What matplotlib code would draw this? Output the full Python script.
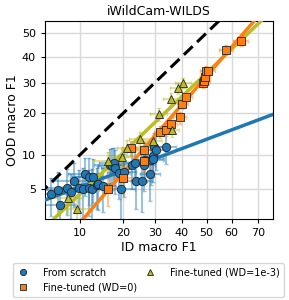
import math
import numpy as np
import matplotlib
matplotlib.use("Agg")
import matplotlib.pyplot as plt
from matplotlib.ticker import FixedLocator, FixedFormatter, NullLocator

# From scratch (blue circles): ID / OOD macro F1 with error bars
scratch_id = [5.8, 6.6, 6.95, 7.9, 8.5, 9.0, 9.8, 10.5, 10.9, 11.6, 11.6, 12.5, 12.2,
              13.3, 13.6, 14.8, 16.4, 16.9, 17.5, 17.8, 18.8, 19.4, 20.1, 22.4, 23.3,
              23.8, 25.6, 26.2, 26.7, 28.5, 28.7, 29.3, 29.5, 29.7, 30.6, 34.2]
scratch_ood = [4.5, 4.95, 3.5, 5.2, 4.7, 5.95, 5.2, 5.0, 6.9, 6.5, 5.1, 6.5, 5.0,
               5.5, 5.6, 5.4, 8.2, 8.1, 8.5, 7.7, 7.0, 5.0, 7.2, 8.2, 8.5,
               6.0, 6.0, 8.2, 9.1, 6.9, 9.0, 9.7, 9.3, 11.6, 11.0, 11.6]
scratch_xerr = [2.0, 2.4, 2.2, 2.6, 2.4, 3.0, 2.6, 3.2, 2.8, 3.0, 2.7, 3.4, 2.9,
                3.0, 3.5, 3.2, 3.6, 3.4, 3.8, 3.5, 3.2, 4.0, 3.6, 3.5, 4.0,
                3.6, 3.4, 4.0, 3.8, 3.5, 4.2, 3.8, 4.0, 3.6, 4.0, 3.5]
scratch_yerr = [1.8, 2.2, 1.6, 2.4, 2.2, 2.6, 2.2, 2.8, 2.6, 3.0, 2.4, 2.8, 2.6,
                2.3, 2.5, 2.4, 3.0, 3.2, 2.8, 3.2, 3.0, 2.6, 3.0, 3.2, 3.0,
                2.8, 3.0, 3.4, 3.2, 3.0, 3.5, 3.2, 3.4, 3.0, 3.6, 3.2]

# Fine-tuned, WD=0 (orange squares)
ft0_id = [15.9, 19.9, 22.1, 26.2, 26.2, 31.9, 33.9, 35.9, 39.3, 40.3, 41.9,
          48.7, 49.0, 49.4, 49.7, 50.7, 57.8, 63.5]
ft0_ood = [5.0, 6.3, 11.3, 10.9, 8.9, 14.9, 15.3, 17.0, 18.7, 22.8, 25.0,
           30.0, 30.7, 32.3, 34.5, 34.4, 43.0, 46.5]
ft0_xerr = [2.5, 2.8, 2.5, 2.6, 2.4, 2.2, 2.5, 2.4, 2.6, 2.2, 2.4,
            2.4, 2.6, 2.2, 2.4, 2.6, 2.8, 2.8]
ft0_yerr = [1.6, 1.8, 1.5, 1.6, 1.8, 1.5, 1.4, 1.6, 1.7, 1.5, 1.6,
            2.0, 1.8, 1.7, 2.0, 1.8, 2.0, 1.8]

# Fine-tuned, WD=1e-3 (olive triangles)
ft3_id = [8.0, 9.4, 16.0, 19.6, 21.1, 25.0, 29.3, 31.4, 36.3, 35.9, 38.7, 40.6]
ft3_ood = [4.1, 3.2, 8.9, 9.6, 11.3, 13.3, 12.7, 19.6, 15.4, 24.5, 28.0, 29.8]
ft3_xerr = [2.4, 2.6, 3.2, 3.4, 3.0, 3.4, 3.2, 3.0, 2.8, 3.0, 3.2, 3.0]
ft3_yerr = [1.2, 1.2, 1.6, 1.6, 1.7, 1.6, 1.5, 1.9, 1.6, 2.0, 2.0, 1.8]

# probit-space linear fits (slope, intercept)
fit_scratch = [0.39, -1.119]
fit_ft0 = [1.202, -0.454]
fit_ft3 = [0.992, -0.422]

x_ticks = [10, 20, 30, 40, 50, 60, 70]
y_ticks = [5, 10, 20, 30, 40, 50]


def norm_ppf(p):
    p = np.asarray(p, dtype=float)
    a = [-3.969683028665376e+01, 2.209460984245205e+02, -2.759285104469687e+02,
         1.383577518672690e+02, -3.066479806614716e+01, 2.506628277459239e+00]
    b = [-5.447609879822406e+01, 1.615858368580409e+02, -1.556989798598866e+02,
         6.680131188771972e+01, -1.328068155288572e+01]
    c = [-7.784894002430293e-03, -3.223964580411365e-01, -2.400758277161838e+00,
         -2.549732539343734e+00, 4.374664141464968e+00, 2.938163982698783e+00]
    d = [7.784695709041462e-03, 3.224671290700398e-01, 2.445134137142996e+00,
         3.754408661907416e+00]
    plow = 0.02425
    q = p - 0.5
    r = q * q
    central = ((((((a[0]*r + a[1])*r + a[2])*r + a[3])*r + a[4])*r + a[5]) * q /
               (((((b[0]*r + b[1])*r + b[2])*r + b[3])*r + b[4])*r + 1))
    pl = np.minimum(p, 1 - p)
    ql = np.sqrt(-2 * np.log(pl))
    tail = ((((((c[0]*ql + c[1])*ql + c[2])*ql + c[3])*ql + c[4])*ql + c[5]) /
            ((((d[0]*ql + d[1])*ql + d[2])*ql + d[3])*ql + 1))
    tail = np.where(p < 0.5, tail, -tail)
    return np.where(pl < plow, tail, central)


_erf = np.vectorize(math.erf)


def norm_cdf(z):
    return 0.5 * (1 + _erf(np.asarray(z, dtype=float) / math.sqrt(2)))


def forward(v):
    return norm_ppf(np.clip(np.asarray(v, dtype=float) / 100, 1e-6, 1 - 1e-6))


def inverse(z):
    return 100 * norm_cdf(z)


fig = plt.figure(figsize=(2.89, 3.0), dpi=100)
ax = fig.add_axes([0.156, 0.269, 0.789, 0.661])
ax.set_xscale("function", functions=(forward, inverse))
ax.set_yscale("function", functions=(forward, inverse))

xs = np.linspace(1, 99, 400)
ax.plot(xs, xs, color="black", ls=(0, (4, 2)), lw=2.2, zorder=3)
for (slope, icpt), col in [(fit_scratch, "#1f77b4"), (fit_ft3, "#bcbd22"), (fit_ft0, "#ff7f0e")]:
    ys = inverse(slope * forward(xs) + icpt)
    ax.plot(xs, ys, color=col, lw=2.5, zorder=3)

series = [
    (scratch_id, scratch_ood, scratch_xerr, scratch_yerr, "#1f77b4", "o", 6, "From scratch"),
    (ft0_id, ft0_ood, ft0_xerr, ft0_yerr, "#ff7f0e", "s", 5.5, "Fine-tuned (WD=0)"),
    (ft3_id, ft3_ood, ft3_xerr, ft3_yerr, "#bcbd22", "^", 6, "Fine-tuned (WD=1e-3)"),
]
for x, y, xe, ye, col, mk, ms, lab in series:
    ax.errorbar(x, y, xerr=xe, yerr=ye, fmt="none", ecolor=col, alpha=0.45,
                elinewidth=1.5, capsize=1.5, zorder=2)
    ax.plot(x, y, mk, color=col, mec="#222222", mew=0.6, ms=ms, label=lab, zorder=4)

ax.set_xlim(5.1, 75)
ax.set_ylim(2.5, 55)
ax.xaxis.set_major_locator(FixedLocator(x_ticks))
ax.xaxis.set_major_formatter(FixedFormatter([str(t) for t in x_ticks]))
ax.yaxis.set_major_locator(FixedLocator(y_ticks))
ax.yaxis.set_major_formatter(FixedFormatter([str(t) for t in y_ticks]))
ax.xaxis.set_minor_locator(NullLocator())
ax.yaxis.set_minor_locator(NullLocator())
ax.tick_params(labelsize=8, length=3)
ax.grid(True, color="#d9d9d9", lw=1, zorder=0)
ax.set_axisbelow(True)

ax.set_xlabel("ID macro F1", fontsize=9, labelpad=2)
ax.set_ylabel("OOD macro F1", fontsize=9, labelpad=2)
ax.set_title("iWildCam-WILDS", fontsize=9, pad=4)

fig.legend(loc="upper center", bbox_to_anchor=(0.514, 0.138), ncol=2, fontsize=7,
           numpoints=1, handletextpad=1.4, columnspacing=0.8, borderpad=0.45,
           labelspacing=0.45, handlelength=1.2, markerscale=0.75)

fig.savefig("out.png", dpi=100)
